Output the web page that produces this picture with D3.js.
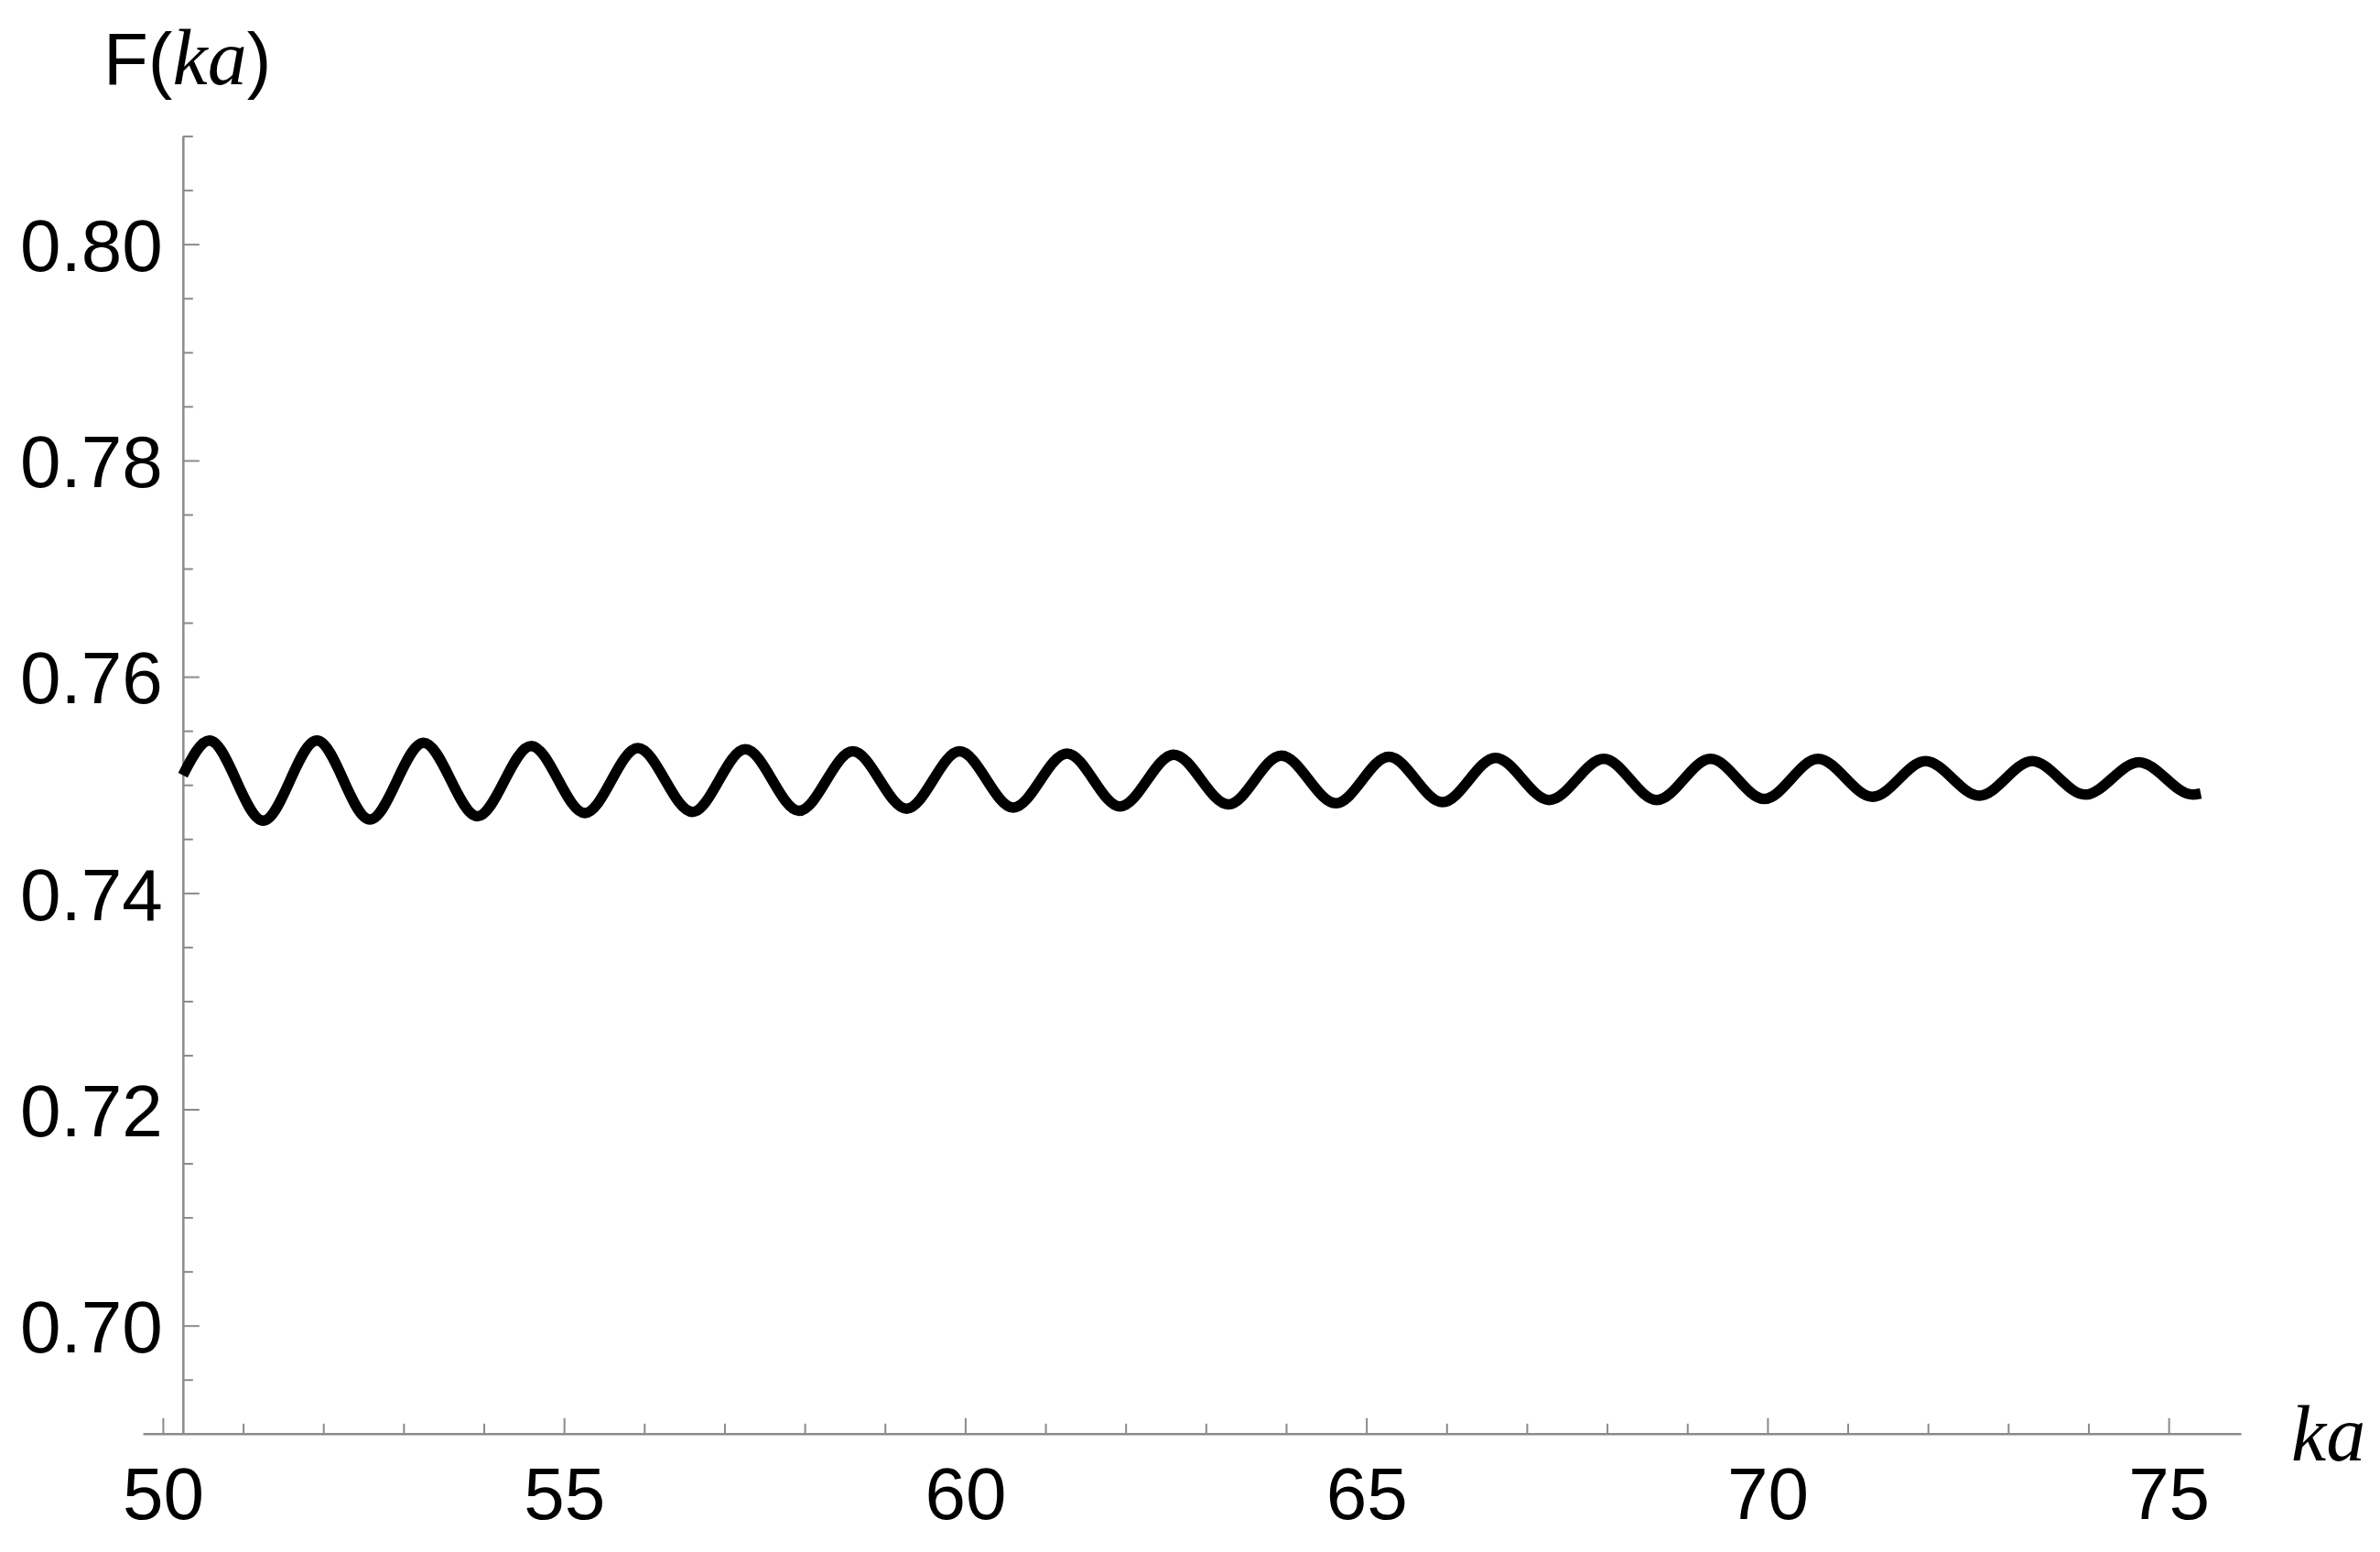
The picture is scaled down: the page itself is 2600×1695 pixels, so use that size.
<!DOCTYPE html>
<html>
<head>
<meta charset="utf-8">
<script src="https://cdn.jsdelivr.net/npm/d3@7"></script>
<style>
  body { margin: 0; background: #fff; }
</style>
</head>
<body>
<div id="chart"></div>
<script>
// ka values of the curve's extremes (start, peaks and troughs, end)
const kaValues = [50.25, 50.58, 51.25, 51.92, 52.58, 53.25, 53.92, 54.59, 55.26, 55.92,
    56.60, 57.26, 57.93, 58.60, 59.27, 59.93, 60.60, 61.27, 61.93, 62.60, 63.28,
    63.94, 64.62, 65.28, 65.95, 66.61, 67.28, 67.96, 68.62, 69.29, 69.96, 70.63,
    71.31, 71.97, 72.64, 73.30, 73.96, 74.63, 75.30, 75.40];
// F(ka) read at those points
const fValues = [0.7509, 0.7541, 0.7467, 0.7541, 0.7468, 0.7539, 0.7471, 0.7536, 0.7474, 0.7534,
    0.7475, 0.7533, 0.7476, 0.7531, 0.7478, 0.7531, 0.7479, 0.7529, 0.7480, 0.7528, 0.7482,
    0.7527, 0.7483, 0.7526, 0.7484, 0.7525, 0.7486, 0.7524, 0.7486, 0.7524, 0.7487, 0.7524,
    0.7489, 0.7522, 0.7490, 0.7522, 0.7491, 0.7521, 0.7491, 0.7492];

const xTicks = [50, 55, 60, 65, 70, 75];
const yTicks = [0.70, 0.72, 0.74, 0.76, 0.78, 0.80];

const width = 2600;
const height = 1695;

// échelles
const x = d3.scaleLinear()
    .domain([49.75, 75.9])
    .range([156, 2448]);

const y = d3.scaleLinear()
    .domain([0.69, 0.81])
    .range([1565.8, 148.6]);

const svg = d3.select("#chart").append("svg")
    .attr("width", width)
    .attr("height", height)
    .attr("viewBox", [0, 0, width, height])
    .style("background", "#fff");

const axisColor = "#8a8a8a";
const labelFont = "'Liberation Sans', Arial, sans-serif";

// axe x : petites graduations
svg.append("g")
    .attr("transform", `translate(0,${y(0.69)})`)
    .call(d3.axisBottom(x).tickValues(d3.range(51, 76, 1).filter(d => d % 5 !== 0))
        .tickSize(-11).tickSizeOuter(0).tickFormat(""))
    .call(g => g.select(".domain").remove())
    .call(g => g.selectAll("line").attr("stroke", axisColor).attr("stroke-width", 2));

// axe x : grandes graduations
svg.append("g")
    .attr("transform", `translate(0,${y(0.69)})`)
    .call(d3.axisBottom(x).tickValues(xTicks)
        .tickSize(-17).tickSizeOuter(0).tickPadding(36).tickFormat(d3.format("d")))
    .call(g => g.select(".domain").attr("stroke", axisColor).attr("stroke-width", 2.5))
    .call(g => g.selectAll("line").attr("stroke", axisColor).attr("stroke-width", 2))
    .call(g => g.selectAll("text")
        .attr("fill", "#000")
        .style("font", `80px ${labelFont}`));

// axe y : petites graduations
svg.append("g")
    .attr("transform", `translate(${x(50.25)},0)`)
    .call(d3.axisLeft(y).tickValues(d3.range(0.695, 0.8101, 0.005).filter(d => Math.abs((d - 0.70) / 0.02 - Math.round((d - 0.70) / 0.02)) > 1e-6))
        .tickSize(-11).tickSizeOuter(0).tickFormat(""))
    .call(g => g.select(".domain").remove())
    .call(g => g.selectAll("line").attr("stroke", axisColor).attr("stroke-width", 2));

// axe y : grandes graduations
svg.append("g")
    .attr("transform", `translate(${x(50.25)},0)`)
    .call(d3.axisLeft(y).tickValues(yTicks)
        .tickSize(-18).tickSizeOuter(0).tickPadding(22).tickFormat(d3.format(".2f")))
    .call(g => g.select(".domain").attr("stroke", axisColor).attr("stroke-width", 2.5))
    .call(g => g.selectAll("line").attr("stroke", axisColor).attr("stroke-width", 2))
    .call(g => g.selectAll("text")
        .attr("fill", "#000")
        .attr("dy", "0.36em")
        .style("font", `80px ${labelFont}`));

// courbe
const points = kaValues.map((k, i) => ({ka: k, f: fValues[i]}));

svg.append("path")
    .datum(points)
    .attr("fill", "none")
    .attr("stroke", "#000")
    .attr("stroke-width", 11.5)
    .attr("stroke-linejoin", "round")
    .attr("d", d3.line()
        .curve(d3.curveMonotoneX)
        .x(d => x(d.ka))
        .y(d => y(d.f)));

// titre de l'axe y
const yLabel = svg.append("text")
    .attr("x", 113)
    .attr("y", 92)
    .attr("fill", "#000")
    .style("font", `80px ${labelFont}`);
yLabel.append("tspan").text("F(");
yLabel.append("tspan")
    .style("font-family", "'Liberation Serif', 'Times New Roman', serif")
    .style("font-style", "italic")
    .style("font-size", "86px")
    .text("ka");
yLabel.append("tspan").text(")");

// titre de l'axe x
svg.append("text")
    .attr("x", 2503)
    .attr("y", 1595)
    .attr("fill", "#000")
    .style("font", `italic 86px 'Liberation Serif', 'Times New Roman', serif`)
    .text("ka");
</script>
</body>
</html>
